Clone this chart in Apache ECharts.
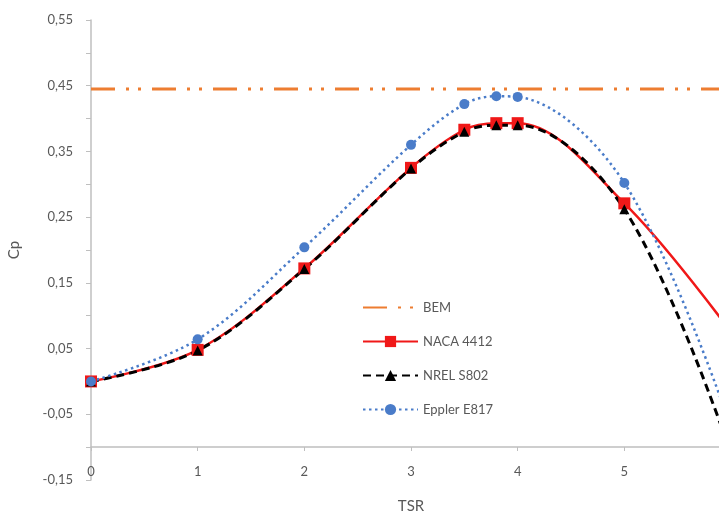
<!DOCTYPE html>
<html>
<head>
<meta charset="utf-8">
<script src="https://cdn.jsdelivr.net/npm/echarts@6/dist/echarts.min.js"></script>
<style>
  html, body { margin: 0; padding: 0; background: #fff; }
  #chart { width: 719px; height: 513px; }
</style>
</head>
<body>
<div id="chart"></div>
<script>
// TSR points and Cp values
const tsr = [0, 1, 2, 3, 3.5, 3.8, 4, 5, 6];
const bem = [0.445, 0.445, 0.445, 0.445, 0.445, 0.445, 0.445, 0.445, 0.445];
const naca4412 = [0.0, 0.048, 0.172, 0.325, 0.383, 0.393, 0.393, 0.271, 0.075];
const nrelS802 = [0.0, 0.047, 0.171, 0.324, 0.38, 0.39, 0.39, 0.262, -0.11];
const epplerE817 = [0.0, 0.064, 0.204, 0.36, 0.422, 0.434, 0.433, 0.302, -0.07];
const seriesNames = ['BEM', 'NACA 4412', 'NREL S802', 'Eppler E817'];

const pairs = (ys) => tsr.map((x, i) => [x, ys[i]]);
const grey = '#595959';
const axisGrey = '#bfbfbf';
const font = 'Lato, "Open Sans", sans-serif';

const chart = echarts.init(document.getElementById('chart'));

const option = {
    animation: false,
    textStyle: { fontFamily: font },
    grid: { left: 91, right: -12, top: 20, bottom: 33, outerBoundsMode: 'none' },
    legend: {
        orient: 'vertical',
        left: 357,
        top: 296,
        itemWidth: 55,
        itemHeight: 14,
        itemGap: 21,
        data: [
            { name: seriesNames[0], itemStyle: { opacity: 0 } },
            seriesNames[1], seriesNames[2], seriesNames[3]
        ],
        textStyle: { color: grey, fontSize: 13, fontFamily: font }
    },
    xAxis: {
        type: 'value',
        min: 0,
        max: 6,
        interval: 1,
        offset: -33,   // x axis crosses the y axis at -0,10
        name: 'TSR',
        nameLocation: 'middle',
        nameGap: 52,
        nameTextStyle: { color: grey, fontSize: 15, fontFamily: font },
        axisLine: { onZero: false, lineStyle: { color: axisGrey, width: 1.5 } },
        axisTick: { length: 4, lineStyle: { color: axisGrey } },
        axisLabel: { color: grey, fontSize: 13, margin: 18, fontFamily: font },
        splitLine: { show: false }
    },
    yAxis: {
        type: 'value',
        min: -0.15,
        max: 0.55,
        interval: 0.05,
        name: 'Cp',
        nameLocation: 'middle',
        nameGap: 69,
        nameRotate: 90,
        nameTextStyle: { color: grey, fontSize: 15, fontFamily: font },
        axisLine: { show: true, onZero: false, lineStyle: { color: axisGrey, width: 1.5 } },
        axisTick: { show: true, length: 5, lineStyle: { color: axisGrey } },
        axisLabel: {
            color: grey,
            fontSize: 13,
            margin: 18,
            fontFamily: font,
            // only every other tick gets a label: 0,55 0,45 ... -0,15
            formatter: (v) => {
                const c = Math.round(v * 100);
                if (Math.abs(c) % 10 !== 5) return '';
                return (c / 100).toFixed(2).replace('.', ',');
            }
        },
        splitLine: { show: false }
    },
    series: [
        {
            name: seriesNames[0],
            type: 'line',
            data: pairs(bem),
            symbol: 'none',
            itemStyle: { color: '#ED7D31' },
            lineStyle: { color: '#ED7D31', width: 3, type: [24, 11, 3, 9, 3, 11] }
        },
        {
            name: seriesNames[1],
            type: 'line',
            data: pairs(naca4412),
            smooth: 0.35,
            symbol: 'rect',
            symbolSize: 12,
            itemStyle: { color: '#F01818' },
            lineStyle: { color: '#F01818', width: 2.5 }
        },
        {
            name: seriesNames[2],
            type: 'line',
            data: pairs(nrelS802),
            smooth: 0.35,
            symbol: 'triangle',
            symbolSize: 10,
            itemStyle: { color: '#000' },
            lineStyle: { color: '#000', width: 3, type: [8, 5] }
        },
        {
            name: seriesNames[3],
            type: 'line',
            data: pairs(epplerE817),
            smooth: 0.35,
            symbol: 'circle',
            symbolSize: 10,
            itemStyle: { color: '#4A7CC9' },
            lineStyle: { color: '#4A7CC9', width: 2.5, type: [2.5, 3.5] }
        }
    ]
};

chart.setOption(option);
</script>
</body>
</html>
